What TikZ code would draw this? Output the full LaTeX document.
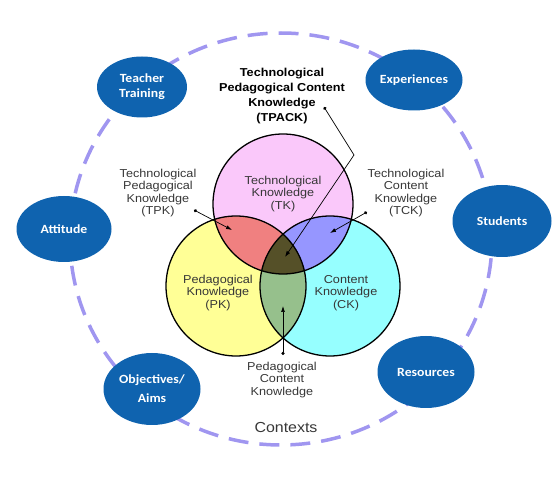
\documentclass[tikz,border=0pt]{standalone}
\usepackage{fontspec}
\setmainfont{Liberation Sans}[FakeStretch=1.1]
\newfontfamily\ctxfont{Carlito}[FakeStretch=1.1]
\usepackage{tikz}
\usetikzlibrary{arrows.meta,shapes.geometric}
\usepackage{xcolor}

\definecolor{ctxblue}{RGB}{15,99,175}
\definecolor{ringlilac}{RGB}{160,150,240}
\definecolor{tkpink}{RGB}{250,200,250}
\definecolor{pkyellow}{RGB}{255,255,150}
\definecolor{ckcyan}{RGB}{150,255,255}
\definecolor{tpksalmon}{RGB}{240,128,128}
\definecolor{tckblue}{RGB}{150,150,255}
\definecolor{pckgreen}{RGB}{150,192,140}
\definecolor{tpackolive}{RGB}{85,80,40}
\definecolor{lblgrey}{RGB}{55,55,55}

\begin{document}
\begin{tikzpicture}[
    x=1pt, y=-1pt,
    ctx/.style    ={ellipse, fill=ctxblue, inner sep=0pt, align=center,
                    text=white, font=\ctxfont\bfseries\fontsize{12.5}{15}\selectfont},
    venn/.style   ={circle, minimum size=140pt, inner sep=0pt},
    vline/.style  ={draw=black, line width=1.3pt},
    lbl/.style    ={align=center, text=lblgrey,
                    font=\fontsize{11.5}{12.3}\selectfont},
    boldlbl/.style={align=center, text=black,
                    font=\bfseries\fontsize{11.5}{14.7}\selectfont},
    ringline/.style={draw=ringlilac, line width=3.5pt,
                    dash pattern=on 20pt off 11pt},
    pointer/.style={{Circle[length=3.2pt]}-{Latex[length=6pt,width=4pt]},
                    line width=0.7pt},
]
\useasboundingbox (0,0) rectangle (558,481);

% =========================================================
% Outer ring: contexts
% =========================================================
\coordinate (ring) at (281,239);
\draw[ringline] (ring) ellipse [x radius=211pt, y radius=206pt];

\node[ctx, minimum width=90pt, minimum height=61pt]  (teach) at (142,87)
    {Teacher\\Training};
\node[ctx, minimum width=97pt, minimum height=61pt]  (exp)   at (414,80)
    {Experiences};
\node[ctx, minimum width=95pt, minimum height=66pt]  (att)   at (64,229)
    {Attitude};
\node[ctx, minimum width=99pt, minimum height=72pt]  (stud)  at (502,221)
    {Students};
\node[ctx, minimum width=97pt, minimum height=72pt,
      font=\ctxfont\bfseries\fontsize{12.5}{19}\selectfont] (obj) at (152,389)
    {Objectives/\\Aims};
\node[ctx, minimum width=97pt, minimum height=72pt]  (res)   at (426,372)
    {Resources};

\node[text=lblgrey, font=\fontsize{14.5}{16}\selectfont] (contexts) at (286,428)
    {Contexts};

% =========================================================
% Venn: TK, PK, CK and their overlaps
% =========================================================
\node[venn, fill=pkyellow] (pk) at (236,286) {};
\node[venn, fill=ckcyan]   (ck) at (330,286) {};
\node[venn, fill=tkpink]   (tk) at (283,204) {};

\begin{scope}
  \clip (tk.center) circle (70pt);
  \fill[tpksalmon] (pk.center) circle (70pt);
  \fill[tckblue]   (ck.center) circle (70pt);
\end{scope}
\begin{scope}
  \clip (pk.center) circle (70pt);
  \fill[pckgreen] (ck.center) circle (70pt);
\end{scope}
\begin{scope}
  \clip (tk.center) circle (70pt);
  \clip (pk.center) circle (70pt);
  \fill[tpackolive] (ck.center) circle (70pt);
\end{scope}

\draw[vline] (tk.center) circle (70pt);
\draw[vline] (pk.center) circle (70pt);
\draw[vline] (ck.center) circle (70pt);

\node[lbl] (tklbl) at (283,194) {Technological\\Knowledge\\(TK)};
\node[lbl] (pklbl) at (218,293) {Pedagogical\\Knowledge\\(PK)};
\node[lbl] (cklbl) at (346,293) {Content\\Knowledge\\(CK)};

% =========================================================
% Outside labels with pointers
% =========================================================
\node[boldlbl] (tpack) at (282,96)
    {Technological\\Pedagogical Content\\Knowledge\\(TPACK)};
\node[lbl] (tpk) at (158,193)
    {Technological\\Pedagogical\\Knowledge\\(TPK)};
\node[lbl] (tck) at (406,193)
    {Technological\\Content\\Knowledge\\(TCK)};
\node[lbl] (pck) at (282,380)
    {Pedagogical\\Content\\Knowledge};

\coordinate (tpackdot) at (324,107);
\coordinate (tpackbend) at (354,155);
\coordinate (tpacktip) at (285,257);
\coordinate (tpkdot) at (194,210);
\coordinate (tpktip) at (232,230);
\coordinate (tckdot) at (367,212);
\coordinate (tcktip) at (330,233);
\coordinate (pckdot) at (283,355);
\coordinate (pcktip) at (283,306);

\draw[pointer] (tpackdot) -- (tpackbend) -- (tpacktip);
\draw[pointer] (tpkdot) -- (tpktip);
\draw[pointer] (tckdot) -- (tcktip);
\draw[pointer] (pckdot) -- (pcktip);

\end{tikzpicture}
\end{document}
